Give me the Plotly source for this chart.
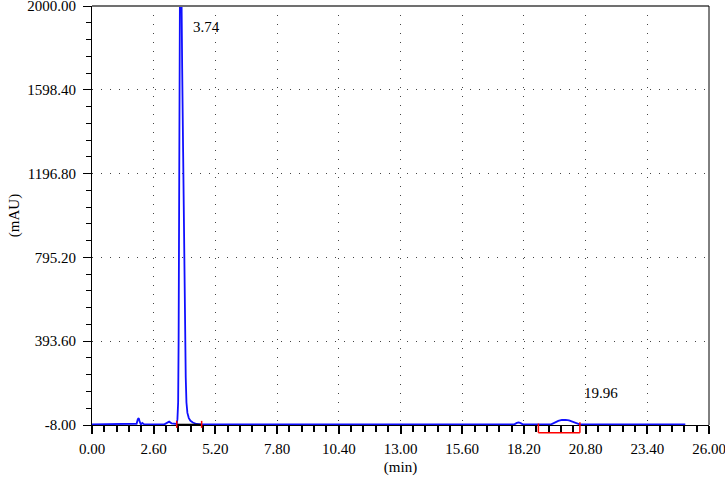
import plotly.graph_objects as go

# chromatogram trace (min, mAU)
time_min = [0.00, 1.80, 1.88, 1.93, 1.97, 2.01, 2.06, 2.12, 2.20,
            3.05, 3.15, 3.25, 3.35, 3.45, 3.57, 3.60, 3.63, 3.65, 3.67,
            3.69, 3.72, 3.74, 3.76, 3.80, 3.84, 3.87, 3.91, 3.95, 3.98,
            4.02, 4.08, 4.15, 4.25, 4.40, 4.60,
            17.80, 17.90, 17.98, 18.06, 18.15,
            19.35, 19.50, 19.65, 19.80, 19.96, 20.10, 20.25, 20.40, 20.55,
            25.00]
signal_mau = [-5, -5, -2, 20, 25, 8, -6, 2, -5,
              -5, 3, 8, 0, -3, -3, 20, 100, 400, 1200,
              2100, 2500, 2450, 2000, 1700, 1300, 900, 500, 220, 100,
              50, 25, 12, 4, -3, -5,
              -5, 2, 4, 1, -5,
              -5, 5, 12, 16, 17, 14, 7, 0, -5,
              -5]

peak_times = [3.74, 19.96]
peak_labels = ["3.74", "19.96"]

# integration marks
int1_start, int1_end = 3.57, 4.62
int2_start, int2_end = 18.81, 20.56
baseline_mau = -5
bracket_low_mau = -45

x_ticks = [0.0, 2.6, 5.2, 7.8, 10.4, 13.0, 15.6, 18.2, 20.8, 23.4, 26.0]
y_ticks = [-8.0, 393.6, 795.2, 1196.8, 1598.4, 2000.0]

y_min, y_max = -8.0, 2000.0
eps = 1e-6


def to_paper(v):
    return (v - y_min) / (y_max - y_min)


font = dict(family="Liberation Serif", size=15, color="black")

fig = go.Figure()

fig.add_trace(go.Scatter(x=time_min, y=signal_mau, mode="lines",
                         line=dict(color="#1010ff", width=1.8), hoverinfo="skip"))

# black integration baseline for the main peak
fig.add_trace(go.Scatter(x=[int1_start, int1_end], y=[baseline_mau, baseline_mau], mode="lines",
                         line=dict(color="black", width=1.3), hoverinfo="skip"))

# red start/end marks
fig.add_trace(go.Scatter(x=[int1_start, int1_end], y=[baseline_mau, baseline_mau], mode="markers",
                         marker=dict(symbol="line-ns", size=5, line=dict(color="red", width=1.5)),
                         hoverinfo="skip", cliponaxis=False))

shapes = []
# red bracket under second peak (drawn below the axis, so paper coords)
bx = [int2_start, int2_start, int2_end, int2_end]
by = [baseline_mau + 4, bracket_low_mau, bracket_low_mau, baseline_mau + 10]
for i in range(3):
    shapes.append(dict(type="line", xref="x", yref="paper",
                       x0=bx[i], x1=bx[i + 1], y0=to_paper(by[i]), y1=to_paper(by[i + 1]),
                       line=dict(color="red", width=1.5)))
# frame: grey top, black right
shapes.append(dict(type="line", xref="paper", yref="paper", x0=0, x1=1, y0=1, y1=1,
                   line=dict(color="#707070", width=2)))
shapes.append(dict(type="line", xref="paper", yref="paper", x0=1, x1=1, y0=0, y1=1,
                   line=dict(color="black", width=1)))

annotations = [
    dict(x=peak_times[0], y=y_max, xref="x", yref="y", text=peak_labels[0], showarrow=False,
         xanchor="left", yanchor="middle", xshift=10, yshift=-21, font=font),
    dict(x=peak_times[1], y=16, xref="x", yref="y", text=peak_labels[1], showarrow=False,
         xanchor="left", yanchor="middle", xshift=16, yshift=27, font=font),
]

fig.update_layout(
    width=725, height=480,
    margin=dict(l=92, r=16, t=6, b=55),
    paper_bgcolor="white", plot_bgcolor="white",
    showlegend=False,
    font=font,
    shapes=shapes,
    annotations=annotations,
)

fig.update_xaxes(
    range=[0 - eps, 26 + eps], tickvals=x_ticks, ticktext=[f"{v:.2f}" for v in x_ticks],
    showline=True, linecolor="black", linewidth=1,
    ticks="outside", ticklen=8, tickcolor="black", tickwidth=1.5,
    minor=dict(tickmode="linear", tick0=0, dtick=0.52, ticks="outside", ticklen=6,
               tickcolor="black", tickwidth=1.5, showgrid=False),
    showgrid=True, gridcolor="#444444", gridwidth=1, griddash="1px,8px",
    zeroline=False, layer="below traces",
    ticklabelstandoff=2, ticklabeloverflow="allow",
    title=dict(text="(min)", font=font, standoff=5),
    automargin=False,
)

fig.update_yaxes(
    range=[y_min - eps, y_max + eps], tickvals=y_ticks, ticktext=[f"{v:.2f}" for v in y_ticks],
    showline=True, linecolor="black", linewidth=1,
    ticks="outside", ticklen=8, tickcolor="black", tickwidth=1,
    minor=dict(tickmode="linear", tick0=-8, dtick=80.32, ticks="outside", ticklen=5,
               tickcolor="black", tickwidth=1, showgrid=False),
    showgrid=True, gridcolor="#444444", gridwidth=1, griddash="1px,8px",
    zeroline=False, layer="below traces",
    ticklabelstandoff=4, ticklabeloverflow="allow",
    title=dict(text="(mAU)", font=font, standoff=4),
    automargin=False,
)

fig.write_html("out.html", config={"displayModeBar": False},
               post_script="document.body.style.margin='0';")
